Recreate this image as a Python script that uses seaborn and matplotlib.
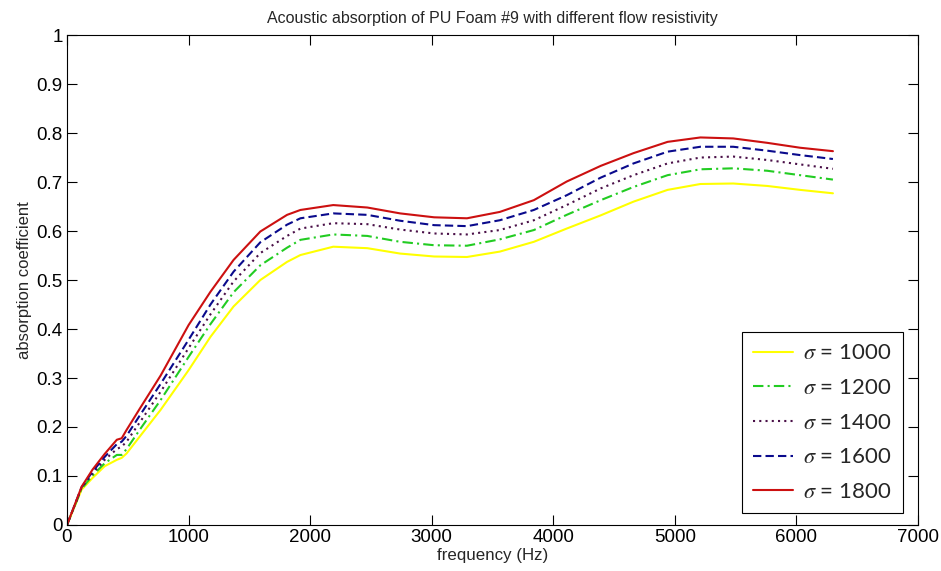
import matplotlib
matplotlib.use("Agg")
import matplotlib.pyplot as plt
import seaborn as sns

# frequency grid (Hz) and absorption
freq = [0, 120, 210, 310, 410, 450, 490, 600, 770, 1000, 1180, 1370, 1590, 1810,
        1920, 2190, 2470, 2740, 3020, 3290, 3560, 3840, 4110, 4390, 4660, 4940,
        5210, 5480, 5760, 6030, 6300]

alpha_1000 = [0, 0.072, 0.096, 0.120, 0.133, 0.137, 0.146, 0.181, 0.235, 0.316, 0.384,
              0.446, 0.500, 0.537, 0.551, 0.568, 0.565, 0.554, 0.548, 0.547, 0.558,
              0.578, 0.605, 0.632, 0.660, 0.684, 0.696, 0.697, 0.692, 0.684, 0.677]
alpha_1200 = [0, 0.074, 0.101, 0.126, 0.143, 0.143, 0.155, 0.195, 0.255, 0.343, 0.410,
              0.475, 0.530, 0.566, 0.582, 0.593, 0.590, 0.578, 0.571, 0.570, 0.583,
              0.602, 0.633, 0.663, 0.690, 0.714, 0.726, 0.728, 0.723, 0.714, 0.705]
alpha_1400 = [0, 0.076, 0.105, 0.133, 0.155, 0.160, 0.170, 0.210, 0.272, 0.361, 0.430,
              0.497, 0.555, 0.590, 0.605, 0.616, 0.614, 0.603, 0.595, 0.593, 0.602,
              0.622, 0.653, 0.687, 0.714, 0.738, 0.750, 0.752, 0.745, 0.736, 0.727]
alpha_1600 = [0, 0.077, 0.109, 0.139, 0.165, 0.170, 0.182, 0.224, 0.288, 0.378, 0.450,
              0.517, 0.577, 0.613, 0.626, 0.636, 0.633, 0.621, 0.612, 0.610, 0.622,
              0.643, 0.673, 0.709, 0.738, 0.762, 0.772, 0.772, 0.764, 0.755, 0.747]
alpha_1800 = [0, 0.078, 0.113, 0.145, 0.174, 0.177, 0.194, 0.238, 0.305, 0.408, 0.476,
              0.541, 0.599, 0.633, 0.643, 0.653, 0.648, 0.636, 0.628, 0.626, 0.639,
              0.663, 0.701, 0.733, 0.759, 0.782, 0.791, 0.789, 0.780, 0.770, 0.763]

sigmas = [1000, 1200, 1400, 1600, 1800]
series = [alpha_1000, alpha_1200, alpha_1400, alpha_1600, alpha_1800]

xticks = [0, 1000, 2000, 3000, 4000, 5000, 6000, 7000]
yticks = [0, 0.1, 0.2, 0.3, 0.4, 0.5, 0.6, 0.7, 0.8, 0.9, 1]
ytick_labels = ["0", "0.1", "0.2", "0.3", "0.4", "0.5", "0.6", "0.7", "0.8", "0.9", "1"]

colors = ["#ffff00", "#22cc22", "#4a1048", "#0a0a8c", "#cc1010"]
linestyles = ["-", (0, (5, 2, 1, 2)), (0, (1, 2)), (0, (4, 2)), "-"]

sns.set_theme(style="ticks")
plt.rcParams["font.family"] = ["Liberation Sans", "DejaVu Sans"]
plt.rcParams["mathtext.fontset"] = "stix"

fig = plt.figure(figsize=(9.41, 5.71), dpi=100)
ax = fig.add_axes([0.0712, 0.0806, 0.9044, 0.858])

for sigma, vals, color, ls in zip(sigmas, series, colors, linestyles):
    sns.lineplot(x=freq, y=vals, ax=ax, color=color, linestyle=ls, lw=1.5,
                 label=rf"$\sigma$ = {sigma}", estimator=None, sort=False)

ax.set_xlim(0, 7000)
ax.set_ylim(0, 1)
ax.set_xticks(xticks)
ax.set_yticks(yticks)
ax.set_yticklabels(ytick_labels)
ax.tick_params(direction="in", top=True, right=True, length=7, width=0.8,
               labelsize=13.5, colors="black", pad=3)
for spine in ax.spines.values():
    spine.set_visible(True)
    spine.set_color("black")
    spine.set_linewidth(0.8)

ax.set_title("Acoustic absorption of PU Foam #9 with different flow resistivity",
             fontsize=11.5, pad=9)
ax.set_xlabel("frequency (Hz)", fontsize=12.2, labelpad=1)
ax.set_ylabel("absorption coefficient", fontsize=12, labelpad=3)

leg = ax.legend(loc="lower right", bbox_to_anchor=(0.982, 0.024), borderaxespad=0,
                fancybox=False, framealpha=1, edgecolor="black",
                prop={"family": ["Lato", "DejaVu Sans"], "size": 16},
                handlelength=1.8, handletextpad=0.45, labelspacing=0.66,
                borderpad=0.5)
leg.get_frame().set_linewidth(0.8)

fig.savefig("out.png", dpi=100, facecolor="white")
